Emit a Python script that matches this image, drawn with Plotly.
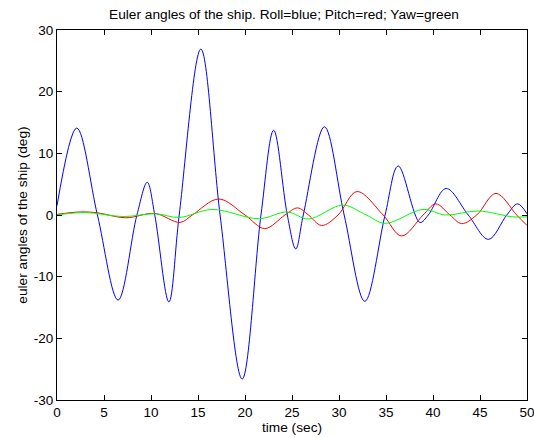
import plotly.graph_objects as go

# Roll (blue): time (sec), angle (deg)
roll_t = [0, 2.1, 4.3, 6.5, 8.5, 9.6, 10.4, 11.9, 13.0, 15.3, 17.35, 19.7, 21.7, 23.05, 24.5,
          25.4, 26.2, 28.45, 30.55, 32.75, 34.9, 36.3, 38.6, 39.5, 41.4, 43.75, 45.9, 47.85, 49.0, 50]
roll_v = [1.5, 14.1, 0, -13.8, 0, 5.3, 0, -14.1, 0, 26.9, 0, -26.6, 0, 13.75, 0,
          -5.5, 0, 14.3, 0, -14.0, 0, 7.95, -1.2, 0, 4.3, 0, -3.95, 0, 1.8, 0.2]

# Pitch (red)
pitch_t = [0, 2.5, 4.3, 7.3, 10.4, 13.1, 14.4, 17.2, 20.0, 22.1, 24.25, 25.6, 26.75, 28.15,
           29.9, 31.9, 34.7, 36.65, 38.95, 40.3, 41.8, 43.05, 44.65, 46.7, 48.9, 50]
pitch_v = [0.1, 0.5, 0.35, -0.45, 0.25, -1.2, 0, 2.6, 0, -2.2, 0, 1.15, 0, -1.7,
           0, 3.8, 0, -3.4, 0, 1.8, 0, -1.4, 0, 3.5, 0, -1.7]

# Yaw (green)
yaw_t = [0, 3.0, 7.0, 10.5, 13.0, 16.5, 21.5, 24.5, 26.75, 30.4, 32.9, 34.9, 38.95, 41.3, 44.8, 48.5, 50]
yaw_v = [0.0, 0.4, -0.25, 0.2, -0.4, 0.9, -0.6, 0.5, -0.65, 1.6, 0, -1.35, 0.9, 0.0, 0.65, -0.3, -0.3]

x_ticks = [0, 5, 10, 15, 20, 25, 30, 35, 40, 45, 50]
y_ticks = [-30, -20, -10, 0, 10, 20, 30]
y_tick_text = ["-30", "-20", "-10", "0", "10", "20", "30"]

FONT = "Liberation Sans, Arial, Helvetica, sans-serif"
W, H = 534, 438

fig = go.Figure()
fig.add_trace(go.Scatter(x=roll_t, y=roll_v, mode="lines", name="Roll",
                         line=dict(color="#0000ff", width=1, shape="spline", smoothing=1.0)))
fig.add_trace(go.Scatter(x=pitch_t, y=pitch_v, mode="lines", name="Pitch",
                         line=dict(color="#ff0000", width=1, shape="spline", smoothing=1.0)))
fig.add_trace(go.Scatter(x=yaw_t, y=yaw_v, mode="lines", name="Yaw",
                         line=dict(color="#00ff00", width=1, shape="spline", smoothing=1.0)))

axis_common = dict(showgrid=False, zeroline=False, showline=True, linecolor="#000000",
                   linewidth=1, mirror="ticks", ticks="inside", ticklen=5, tickcolor="#000000",
                   ticklabeloverflow="allow",
                   tickfont=dict(family=FONT, size=13.5, color="#000000"))

fig.update_layout(
    width=W, height=H,
    margin=dict(l=57, r=7, t=30, b=38, autoexpand=False),
    paper_bgcolor="white", plot_bgcolor="white",
    showlegend=False,
    title=dict(text="Euler angles of the ship. Roll=blue; Pitch=red; Yaw=green",
               x=284 / W, xanchor="center", xref="container",
               y=1 - 14 / H, yanchor="middle", yref="container",
               font=dict(family=FONT, size=13.7, color="#000000")),
    xaxis=dict(range=[0, 50], tickvals=x_ticks,
               title=dict(text="time (sec)", standoff=1,
                          font=dict(family=FONT, size=13.7, color="#000000")),
               **axis_common),
    yaxis=dict(range=[-30, 30], tickvals=y_ticks, ticktext=y_tick_text,
               title=dict(text="euler angles of the ship (deg)", standoff=2,
                          font=dict(family=FONT, size=13.7, color="#000000")),
               **axis_common),
)

fig.write_html("out.html",
               config={"displayModeBar": False},
               post_script="document.body.style.margin='0';document.body.style.overflow='hidden';")
